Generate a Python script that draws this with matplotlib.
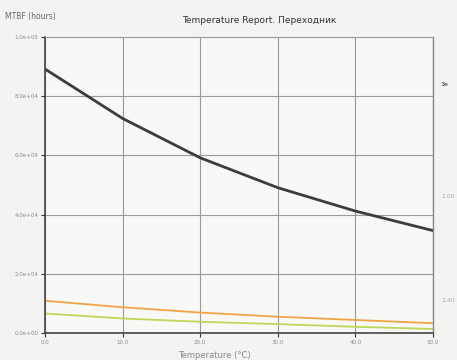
import matplotlib
matplotlib.use("Agg")
import matplotlib.pyplot as plt
import numpy as np

# temperature points (deg C) and MTBF values (hours) for each curve
temps = [0, 10, 20, 30, 40, 50]
mtbf_main = [89200, 72500, 59200, 49100, 41200, 34600]
mtbf_orange = [10900, 8700, 6900, 5500, 4400, 3300]
mtbf_green = [6600, 4900, 3800, 3000, 2100, 1350]

y_ticks = [0, 20000, 40000, 60000, 80000, 100000]
y_tick_labels = ["0.0e+00", "2.0e+04", "4.0e+04", "6.0e+04", "8.0e+04", "1.0e+05"]
x_tick_labels = ["0.0", "10.0", "20.0", "30.0", "40.0", "50.0"]
side_labels = ["3e", "1.00", "1.40"]

fig = plt.figure(figsize=(4.57, 3.6), dpi=100, facecolor="#f3f3f1")
ax = fig.add_axes([0.0985, 0.075, 0.849, 0.822], facecolor="#f8f8f6")

ax.plot(temps, mtbf_main, color="#3c3c3c", linewidth=2.0)
ax.plot(temps, mtbf_orange, color="#f0a446", linewidth=1.3)
ax.plot(temps, mtbf_green, color="#bcd856", linewidth=1.3)

ax.set_xlim(0, 50)
ax.set_ylim(0, 100000)
ax.set_xticks(temps)
ax.set_xticklabels(x_tick_labels)
ax.set_yticks(y_ticks)
ax.set_yticklabels(y_tick_labels)
ax.tick_params(labelsize=4, colors="#333333", labelcolor="#8a8a8a",
               length=3, width=0.8, pad=2)
ax.grid(True, color="#9a9a9a", linewidth=0.8)

for side in ["left", "bottom"]:
    ax.spines[side].set_color("#444444")
    ax.spines[side].set_linewidth(1.2)
ax.spines["top"].set_color("#9a9a9a")
ax.spines["top"].set_linewidth(0.8)
ax.spines["right"].set_color("#888888")
ax.spines["right"].set_linewidth(1.0)

fig.text(0.012, 0.955, "MTBF (hours)", fontsize=5.5, color="#666666", va="center")
fig.text(0.567, 0.942, "Temperature Report. Переходник", fontsize=6.5,
         color="#333333", ha="center", va="center")
fig.text(0.47, 0.012, "Temperature (°C)", fontsize=6, color="#888888",
         ha="center", va="center")

# series legend, cut off at the right edge
for yy, txt, col in zip([0.765, 0.455, 0.165], side_labels,
                        ["#222222", "#aaaaaa", "#aaaaaa"]):
    fig.text(0.965, yy, txt, fontsize=4.5, color=col, va="center")

fig.savefig("out.png", dpi=100, facecolor=fig.get_facecolor())
